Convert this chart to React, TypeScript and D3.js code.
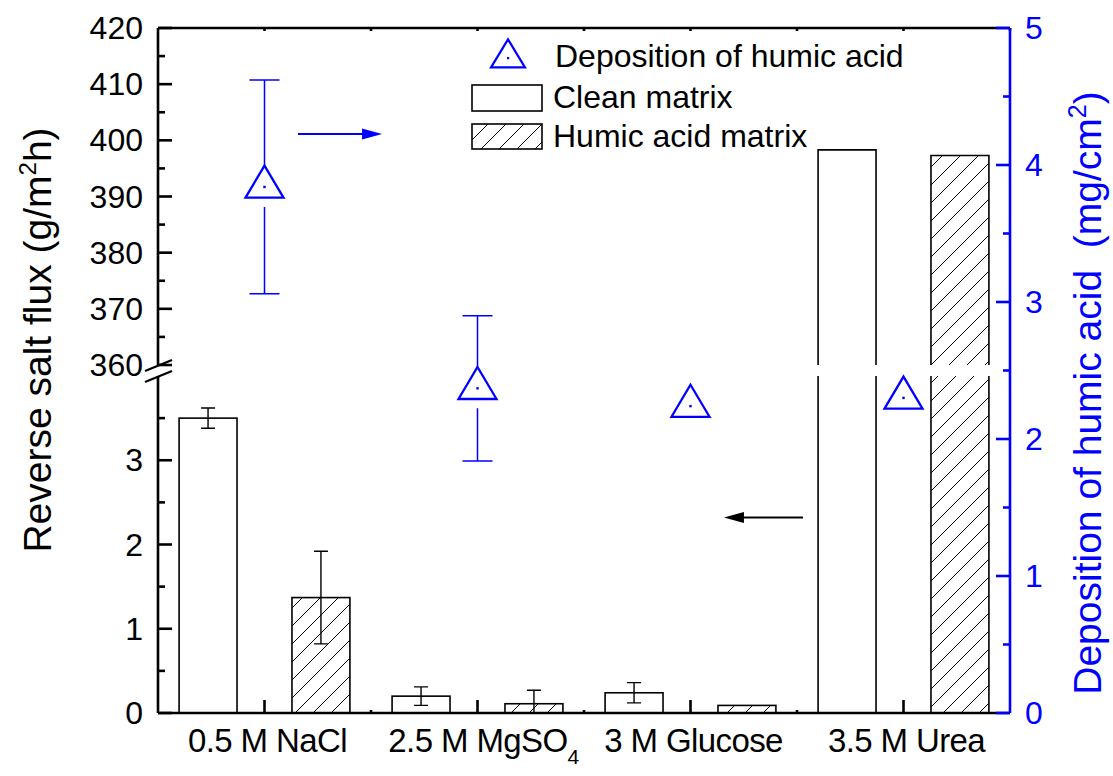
import React from "react";
import * as d3 from "d3";

// Categories along the x axis (index 1..4 on a linear scale)
const categories = ["0.5 M NaCl", "2.5 M MgSO", "3 M Glucose", "3.5 M Urea"];
const categorySubs = ["", "4", "", ""];

// Reverse salt flux, g/m²h
const cleanFlux = [3.5, 0.2, 0.24, 398.3];
const cleanErr = [0.12, 0.11, 0.12, 0];
const humicFlux = [1.37, 0.11, 0.09, 397.3];
const humicErr = [0.55, 0.16, 0, 0];

// Deposition of humic acid, mg/cm²
const deposition = [3.84, 2.37, 2.24, 2.3];
const depositionErr = [0.78, 0.53, 0, 0];

// Axis ticks
const upperMajor = [360, 370, 380, 390, 400, 410, 420];
const upperMinor = [365, 375, 385, 395, 405, 415];
const lowerMajor = [0, 1, 2, 3];
const lowerMinor = [0.5, 1.5, 2.5, 3.5];
const rightMajor = [0, 1, 2, 3, 4, 5];
const rightMinor = [0.5, 1.5, 2.5, 3.5, 4.5];

// Pointer arrows (x in category units; y in axis units)
const arrowBlue = { x0: 1.157, x1: 1.552, y: 4.226 }; // right axis
const arrowBlack = { x0: 3.528, x1: 3.157, y: 2.32 }; // left lower axis

const LOW_MAX = 4;
const HIGH_MIN = 360;

const FONT = "'Liberation Sans', Arial, Helvetica, sans-serif";
const BLUE = "#0000ff";

export default function App() {
  const x = d3.scaleLinear().domain([0.5, 4.5]).range([158, 1010]);
  const yLow = d3.scaleLinear().domain([0, LOW_MAX]).range([713, 376]);
  const yHigh = d3.scaleLinear().domain([HIGH_MIN, 420]).range([365, 28]);
  const yR = d3.scaleLinear().domain([0, 5]).range([713, 28]);

  const left = x.range()[0];
  const right = x.range()[1];
  const top = yHigh.range()[1];
  const bottom = yLow.range()[0];

  const barW = x(0.5 + 0.272) - x(0.5);
  const offset = 0.265;
  const yFlux = (v: number) => (v <= LOW_MAX ? yLow(v) : yHigh(v));

  const renderBar = (i: number, v: number, err: number, dx: number, hatched: boolean) => {
    const cx = x(i + 1 + dx);
    const x0 = cx - barW / 2;
    const x1 = cx + barW / 2;
    const fill = hatched ? "url(#hatch)" : "#fff";
    const els: React.ReactNode[] = [];
    if (v <= LOW_MAX) {
      const yt = yLow(v);
      els.push(
        <rect key="r" x={x0} y={yt} width={barW} height={bottom - yt} fill={fill} stroke="#000" strokeWidth={1.6} />
      );
    } else {
      const yb = yLow(LOW_MAX);
      const yh = yHigh(HIGH_MIN);
      const yt = yHigh(v);
      els.push(<rect key="lf" x={x0} y={yb} width={barW} height={bottom - yb} fill={fill} />);
      els.push(
        <path key="lp" d={`M${x0},${yb}V${bottom}H${x1}V${yb}`} fill="none" stroke="#000" strokeWidth={1.6} />
      );
      els.push(<rect key="uf" x={x0} y={yt} width={barW} height={yh - yt} fill={fill} />);
      els.push(
        <path key="up" d={`M${x0},${yh}V${yt}H${x1}V${yh}`} fill="none" stroke="#000" strokeWidth={1.6} />
      );
    }
    if (err > 0) {
      const ya = yFlux(v + err);
      const yb = Math.min(bottom, yFlux(Math.max(v - err, 0)));
      const cap = 7;
      els.push(
        <path
          key="e"
          d={`M${cx},${ya}V${yb}M${cx - cap},${ya}H${cx + cap}${v - err > 0 ? `M${cx - cap},${yb}H${cx + cap}` : ""}`}
          stroke="#000"
          strokeWidth={1.4}
          fill="none"
        />
      );
    }
    return <g key={`${hatched ? "h" : "c"}${i}`}>{els}</g>;
  };

  const triangle = (cx: number, cy: number, w: number, h: number) =>
    `M${cx},${cy - (2 * h) / 3}L${cx + w / 2},${cy + h / 3}L${cx - w / 2},${cy + h / 3}Z`;

  const arrowHead = (xt: number, y: number, dir: number) =>
    `M${xt},${y}L${xt - dir * 20},${y - 5.5}L${xt - dir * 20},${y + 5.5}Z`;

  return (
    <svg
      width={1113}
      height={776}
      style={{ position: "absolute", left: 0, top: 0, background: "#fff" }}
      fontFamily={FONT}
    >
      <defs>
        <pattern id="hatch" patternUnits="userSpaceOnUse" width={18} height={18}>
          <path d="M0,18L18,0M-4.5,4.5L4.5,-4.5M13.5,22.5L22.5,13.5" stroke="#000" strokeWidth={1} />
        </pattern>
      </defs>

      {/* bars */}
      {cleanFlux.map((v, i) => renderBar(i, v, cleanErr[i], -offset, false))}
      {humicFlux.map((v, i) => renderBar(i, v, humicErr[i], offset, true))}

      {/* deposition markers */}
      {deposition.map((v, i) => {
        const cx = x(i + 1);
        const cy = yR(v);
        const e = depositionErr[i];
        const cap = 15;
        return (
          <g key={`d${i}`}>
            {e > 0 && (
              <path
                d={`M${cx - cap},${yR(v + e)}H${cx + cap}M${cx},${yR(v + e)}V${cy - 21}M${cx},${cy + 20}V${yR(
                  v - e
                )}M${cx - cap},${yR(v - e)}H${cx + cap}`}
                stroke={BLUE}
                strokeWidth={1.5}
                fill="none"
              />
            )}
            <path d={triangle(cx, cy, 38, 32)} fill="none" stroke={BLUE} strokeWidth={2.3} />
            <rect x={cx - 1.2} y={cy - 1.2} width={2.4} height={2.4} fill={BLUE} />
          </g>
        );
      })}

      {/* arrows */}
      <g>
        <line x1={x(arrowBlue.x0)} x2={x(arrowBlue.x1) - 16} y1={yR(arrowBlue.y)} y2={yR(arrowBlue.y)} stroke={BLUE} strokeWidth={2} />
        <path d={arrowHead(x(arrowBlue.x1), yR(arrowBlue.y), 1)} fill={BLUE} />
        <line x1={x(arrowBlack.x0)} x2={x(arrowBlack.x1) + 16} y1={yLow(arrowBlack.y)} y2={yLow(arrowBlack.y)} stroke="#000" strokeWidth={2} />
        <path d={arrowHead(x(arrowBlack.x1), yLow(arrowBlack.y), -1)} fill="#000" />
      </g>

      {/* frame */}
      <g stroke="#000" strokeWidth={2.6} fill="none">
        <line x1={left} x2={right} y1={top} y2={top} />
        <line x1={left} x2={right} y1={bottom} y2={bottom} />
        <line x1={left} x2={left} y1={top} y2={yHigh(HIGH_MIN)} />
        <line x1={left} x2={left} y1={yLow(LOW_MAX)} y2={bottom} />
      </g>
      {/* axis break marks */}
      <g stroke="#000" strokeWidth={2.2}>
        <line x1={left - 13} x2={left + 14} y1={yHigh(HIGH_MIN) + 6} y2={yHigh(HIGH_MIN) - 5} />
        <line x1={left - 13} x2={left + 14} y1={yLow(LOW_MAX) + 6} y2={yLow(LOW_MAX) - 5} />
      </g>

      {/* left ticks */}
      <g stroke="#000" strokeWidth={2.6}>
        {upperMajor.map((t) => (
          <line key={`um${t}`} x1={left} x2={left + 14} y1={yHigh(t)} y2={yHigh(t)} />
        ))}
        {upperMinor.map((t) => (
          <line key={`un${t}`} x1={left} x2={left + 7} y1={yHigh(t)} y2={yHigh(t)} />
        ))}
        {lowerMajor.map((t) => (
          <line key={`lm${t}`} x1={left} x2={left + 14} y1={yLow(t)} y2={yLow(t)} />
        ))}
        {lowerMinor.map((t) => (
          <line key={`ln${t}`} x1={left} x2={left + 7} y1={yLow(t)} y2={yLow(t)} />
        ))}
        {/* bottom / top ticks */}
        {d3.range(1, 5).map((c) => (
          <line key={`bm${c}`} x1={x(c)} x2={x(c)} y1={bottom} y2={bottom - 13} />
        ))}
        {d3.range(1.5, 4.5, 1).map((c) => (
          <line key={`bn${c}`} x1={x(c)} x2={x(c)} y1={bottom} y2={bottom - 3} />
        ))}
        {d3.range(1, 4.6, 0.5).map((c) => (
          <line key={`tn${c}`} x1={x(c)} x2={x(c)} y1={top} y2={top + 3} />
        ))}
      </g>
      <g fontSize={32} fill="#000" textAnchor="end">
        {upperMajor.map((t) => (
          <text key={`ul${t}`} x={left - 15} y={yHigh(t) + 11}>
            {t}
          </text>
        ))}
        {lowerMajor.map((t) => (
          <text key={`ll${t}`} x={left - 15} y={yLow(t) + 11}>
            {t}
          </text>
        ))}
      </g>

      {/* right axis */}
      <g stroke={BLUE} strokeWidth={2.6}>
        <line x1={right} x2={right} y1={yR(5)} y2={yR(0)} />
        {rightMajor.map((t) => (
          <line key={`rm${t}`} x1={right} x2={right - 14} y1={yR(t)} y2={yR(t)} />
        ))}
        {rightMinor.map((t) => (
          <line key={`rn${t}`} x1={right} x2={right - 7} y1={yR(t)} y2={yR(t)} />
        ))}
      </g>
      <g fontSize={32} fill={BLUE}>
        {rightMajor.map((t) => (
          <text key={`rl${t}`} x={right + 15} y={yR(t) + 11}>
            {t}
          </text>
        ))}
      </g>

      {/* category labels */}
      <g fontSize={33} fill="#000" textAnchor="middle" letterSpacing={-0.6}>
        {categories.map((c, i) => (
          <text key={c} x={x(i + 1) + (categorySubs[i] ? 6 : 3)} y={752}>
            {c}
            {categorySubs[i] && (
              <tspan fontSize={21} dy={12}>
                {categorySubs[i]}
              </tspan>
            )}
          </text>
        ))}
      </g>

      {/* axis titles */}
      <text transform={`translate(51,340) rotate(-90)`} textAnchor="middle" fontSize={39} fill="#000">
        Reverse salt flux (g/m
        <tspan fontSize={24} dy={-15}>
          2
        </tspan>
        <tspan dy={15}>h)</tspan>
      </text>
      <text transform={`translate(1101,393) rotate(-90)`} textAnchor="middle" fontSize={39} fill={BLUE}>
        Deposition of humic acid{"\u00a0\u00a0"}(mg/cm
        <tspan fontSize={25} dy={-15}>
          2
        </tspan>
        <tspan dy={15}>)</tspan>
      </text>

      {/* legend */}
      <g>
        <path d={triangle(508, 58, 34, 28)} fill="none" stroke={BLUE} strokeWidth={2.2} />
        <rect x={507} y={57} width={2.2} height={2.2} fill={BLUE} />
        <text x={555} y={67} fontSize={32} fill="#000">
          Deposition of humic acid
        </text>
        <rect x={472} y={85} width={70} height={26} fill="#fff" stroke="#000" strokeWidth={1.6} />
        <text x={553} y={108} fontSize={32} fill="#000">
          Clean matrix
        </text>
        <rect x={472} y={124} width={70} height={25} fill="url(#hatch)" stroke="#000" strokeWidth={1.6} />
        <text x={553} y={147} fontSize={32} fill="#000">
          Humic acid matrix
        </text>
      </g>
    </svg>
  );
}
